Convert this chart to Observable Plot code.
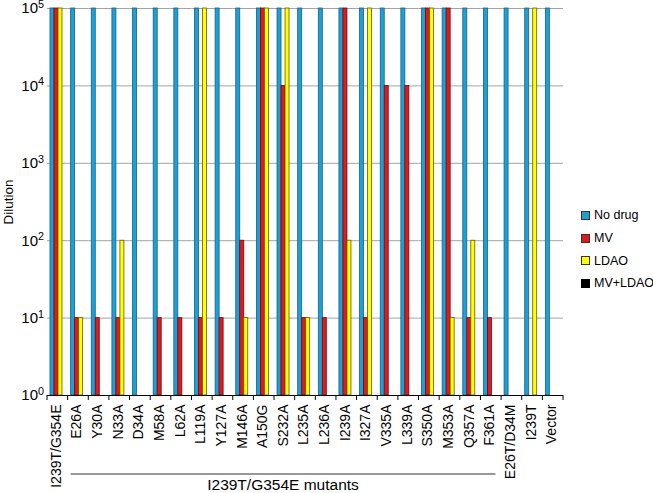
<!DOCTYPE html>
<html><head><meta charset="utf-8">
<script src="https://cdn.jsdelivr.net/npm/d3@7"></script>
<script src="https://cdn.jsdelivr.net/npm/@observablehq/plot@0.6"></script>
<style>
body{margin:0;background:#fff;font-family:"Liberation Sans",Arial,sans-serif;}
#wrap{position:relative;width:653px;height:493px;}
#legend{position:absolute;left:581px;top:204px;font-size:12.5px;color:#000;}
.item{display:flex;align-items:center;height:22.7px;}
.sw{width:7px;height:7px;border:1px solid #333;margin-right:4px;}
#wrap svg g[aria-label="fx-axis tick label"] text{font-size:14px !important;}
#wrap svg g[aria-label="y-axis tick label"] text{font-size:15px !important;}
#wrap svg g[aria-label="y-axis label"] text{font-size:13.5px !important;}
</style></head><body><div id="wrap"><div id="legend"></div></div>
<script>
const categories = ["I239T/G354E","E26A","Y30A","N33A","D34A","M58A","L62A","L119A","Y127A","M146A","A150G","S232A","L235A","L236A","I239A","I327A","V335A","L339A","S350A","M353A","Q357A","F361A","E26T/D34M","I239T","Vector"];
const series = ["No drug","MV","LDAO","MV+LDAO"];
const noDrug = [1e5,1e5,1e5,1e5,1e5,1e5,1e5,1e5,1e5,1e5,1e5,1e5,1e5,1e5,1e5,1e5,1e5,1e5,1e5,1e5,1e5,1e5,1e5,1e5,1e5];
const mv = [1e5,10,10,10,null,10,10,10,10,100,1e5,1e4,10,10,1e5,10,1e4,1e4,1e5,1e5,10,10,null,null,null];
const ldao = [1e5,10,null,100,null,null,null,1e5,null,10,1e5,1e5,10,null,100,1e5,null,null,1e5,10,100,null,null,1e5,null];
const mvLdao = [null,null,null,null,null,null,null,null,null,null,null,null,null,null,null,null,null,null,null,null,null,null,null,null,null];
const yTicks = [1,10,100,1000,10000,100000];
const bracketLabel = "I239T/G354E mutants";
const bracketFrom = "E26A", bracketTo = "F361A";

const fills = ["#1ba1d8","#e2191c","#ffff00","#000000"];
const strokes = ["#14607f","#6a0c0c","#5e5e00","#000000"];
const font = '"Liberation Sans", Arial, sans-serif';

const valueArrays = [noDrug, mv, ldao, mvLdao];
const rows = [];
categories.forEach((c, i) => valueArrays.forEach((arr, j) => {
  if (arr[i] != null) rows.push({cat: c, series: series[j], value: arr[i]});
}));

const chart = Plot.plot({
  width: 653, height: 493,
  marginTop: 8, marginBottom: 98, marginLeft: 47, marginRight: 90,
  style: {fontFamily: font, fontSize: "14px", background: "#fff", color: "#000", overflow: "visible"},
  fx: {domain: categories, padding: 0, round: false, axis: null, label: null},
  x: {domain: series, paddingInner: 0, paddingOuter: 0.58, align: 0.645, round: false, axis: null},
  y: {type: "log", domain: [1, 1e5], axis: null},
  marks: [
    Plot.gridY(yTicks.slice(1), {stroke: "#a3a3a3", strokeOpacity: 1, strokeWidth: 1}),
    ...series.map((s, j) => Plot.barY(rows.filter(r => r.series === s), {
      fx: "cat", x: "series", y1: 1, y2: "value",
      fill: fills[j], stroke: strokes[j], strokeWidth: 0.8
    })),
    Plot.ruleY([1], {stroke: "#000", strokeWidth: 1}),
    Plot.axisY(yTicks, {tickSize: 0, tickPadding: 3.5,
      tickFormat: d => "10|" + Math.round(Math.log10(d)),
      label: "Dilution", labelAnchor: "center", labelArrow: "none", labelOffset: 44}),
    Plot.axisFx({anchor: "bottom", tickSize: 0, tickPadding: 9, tickRotate: -90, dx: -1.5, label: null})
  ]
});

document.getElementById("wrap").prepend(chart);

// superscript exponents
d3.select(chart).selectAll('g[aria-label="y-axis tick label"] text').each(function() {
  const t = d3.select(this);
  const [base, exp] = t.text().split("|");
  t.text(base);
  t.append("tspan").attr("dy", "-0.5em").attr("font-size", "0.72em").text(exp);
});

const fx = chart.scale("fx");
const xs = chart.scale("x");
const ys = chart.scale("y");
const x0 = xs.range[0];
const y0 = ys.apply(1);
const svg = d3.select(chart);
const g = svg.append("g").attr("stroke", "#000");
const bounds = categories.map(c => fx.apply(c)).concat([fx.apply(categories[categories.length - 1]) + fx.bandwidth]);
bounds.forEach(bx => g.append("line").attr("x1", bx).attr("x2", bx).attr("y1", y0).attr("y2", y0 + 5));

const bx1 = fx.apply(bracketFrom) + xs.apply(series[0]) - x0;
const bx2 = fx.apply(bracketTo) + xs.apply(series[2]) + xs.bandwidth - x0;
svg.append("line").attr("x1", bx1).attr("x2", bx2).attr("y1", y0 + 79).attr("y2", y0 + 79)
  .attr("stroke", "#333").attr("stroke-width", 1.2);
svg.append("text").attr("x", (bx1 + bx2) / 2).attr("y", y0 + 95).attr("text-anchor", "middle")
  .style("font-size", "15.5px").attr("fill", "#000").text(bracketLabel);

// legend
const legend = d3.select("#legend");
series.forEach((s, j) => {
  const it = legend.append("div").attr("class", "item");
  it.append("div").attr("class", "sw").style("background", fills[j]).style("border-color", j === 3 ? "#000" : "#333");
  it.append("span").text(s);
});
</script></body></html>
